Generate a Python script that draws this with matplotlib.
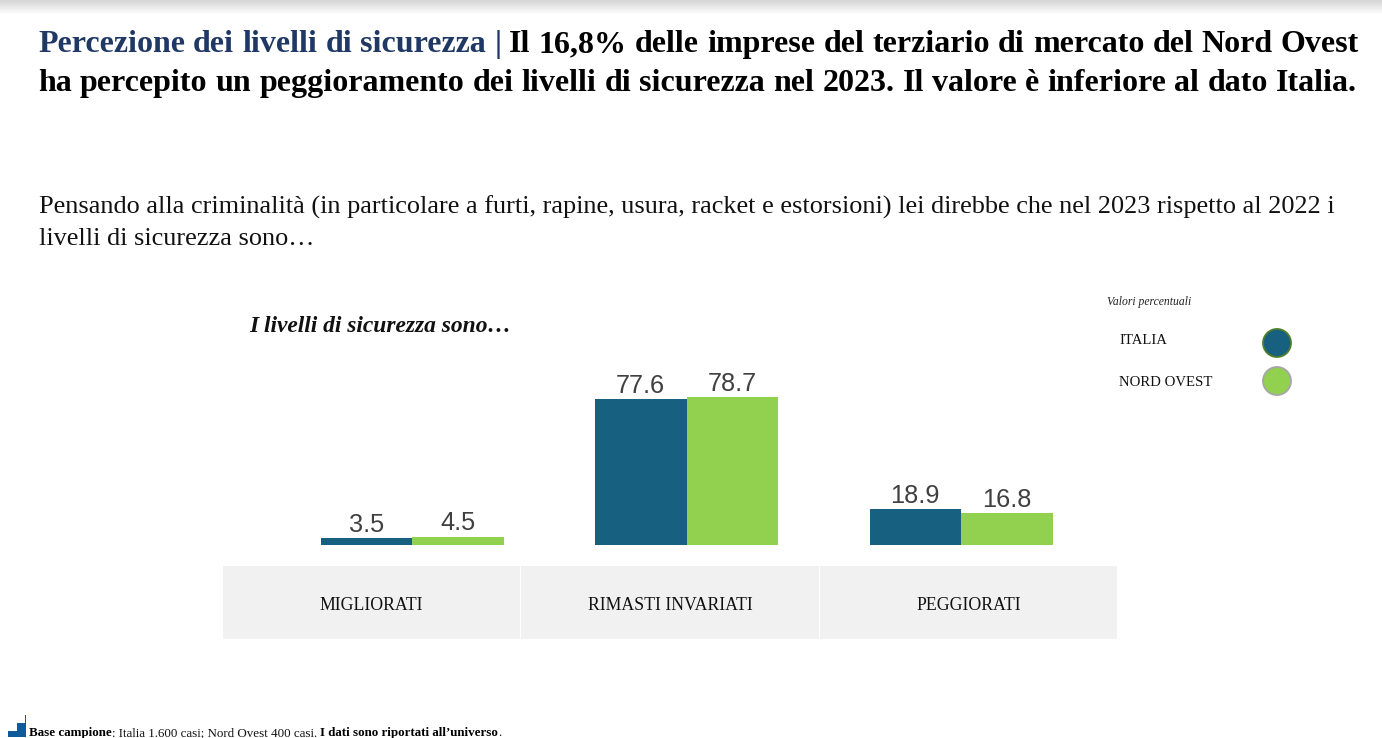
import numpy as np
import matplotlib
matplotlib.use("Agg")
import matplotlib.pyplot as plt
from matplotlib.patches import Rectangle, Circle, Polygon

plt.rcParams['font.family'] = ['Liberation Serif', 'DejaVu Serif']

categories = ["MIGLIORATI", "RIMASTI INVARIATI", "PEGGIORATI"]
italia = [3.5, 77.6, 18.9]
nord_ovest = [4.5, 78.7, 16.8]
series_names = ["ITALIA", "NORD OVEST"]

blue = "#17607f"
green = "#92d050"
W, H = 1382, 738

fig = plt.figure(figsize=(W / 100, H / 100), dpi=100)

# overlay in pixel coords for the slide stuff
bg = fig.add_axes([0, 0, 1, 1])
bg.set_xlim(0, W)
bg.set_ylim(H, 0)
bg.axis("off")

# grey shadow along the top edge
grad = np.linspace(0.84, 1, 16).reshape(-1, 1)
bg.imshow(grad, extent=[0, W, 15, 0], cmap="gray", vmin=0, vmax=1, aspect="auto")
bg.set_xlim(0, W)
bg.set_ylim(H, 0)


def runs(x, y, parts, size):
    # draw text pieces one after the other on the same baseline
    r = fig.canvas.get_renderer()
    for s, color, weight in parts:
        t = bg.text(x, y, s, fontsize=size, color=color, weight=weight, va="baseline")
        x = t.get_window_extent(r).x1


def justified(x0, x1, y, parts, size):
    # split in words and spread them so the line fills x0..x1
    r = fig.canvas.get_renderer()
    words = []
    for s, color in parts:
        for w in s.split():
            t = bg.text(0, y, w, fontsize=size, color=color, weight="bold", va="baseline")
            words.append((t, t.get_window_extent(r).width))
    gap = (x1 - x0 - sum(w for _, w in words)) / (len(words) - 1)
    x = x0
    for t, w in words:
        t.set_x(x)
        x += w + gap


navy = "#1f3864"
justified(38, 1359, 52, [("Percezione dei livelli di sicurezza |", navy),
                         ("Il 16,8% delle imprese del terziario di mercato del Nord Ovest", "black")], 23)
justified(38, 1357, 91, [("ha percepito un peggioramento dei livelli di sicurezza nel 2023. Il valore è inferiore al dato Italia.", "black")], 23)

body = "#111111"
bg.text(39, 214, "Pensando alla criminalità (in particolare a furti, rapine, usura, racket e estorsioni) lei direbbe che nel 2023 rispetto al 2022 i",
        fontsize=18.9, color=body, va="baseline")
bg.text(39, 245, "livelli di sicurezza sono…", fontsize=18.9, color=body, va="baseline")

bg.text(249, 332, "I livelli di sicurezza sono…", fontsize=16.9, weight="bold", style="italic", color=body, va="baseline")
bg.text(1107, 305, "Valori percentuali", fontsize=8.4, style="italic", color="#222222", va="baseline")

# legend
for name, c, edge, yy, ty in zip(series_names, [blue, green], ["#4f7f2a", "#a6a6a6"], [343, 381], [344, 386]):
    bg.add_patch(Circle((1277, yy), 14, facecolor=c, edgecolor=edge, lw=1.3))
    bg.text(1119, ty, name, fontsize=10.6, color=body, va="baseline")

# category strip
cell_x = [223, 521, 820]
cell_w = [297, 298, 297]
for cat, cx, cw in zip(categories, cell_x, cell_w):
    bg.add_patch(Rectangle((cx, 566), cw, 73, facecolor="#f1f1f1", edgecolor="none"))
    bg.text(cx + cw / 2, 605, cat, fontsize=12.8, color=body, ha="center", va="center")

# footer logo and note
bg.add_patch(Polygon([(8, 737), (8, 731), (17, 731), (17, 723), (25, 723), (25, 715), (26, 715), (26, 737)],
                     closed=True, facecolor="#0f5a9a", edgecolor="none"))
runs(29, 736, [("Base campione", "black", "bold"),
               (": Italia 1.600 casi; Nord Ovest 400 casi. ", body, "normal"),
               ("I dati sono riportati all’universo", "black", "bold"),
               (".", body, "normal")], 9.4)

# bars
ax = fig.add_axes([274.75 / W, 1 - 545 / H, 823.5 / W, 188 / H])
ax.patch.set_alpha(0)
x = np.arange(len(categories))
w = 1 / 3
b1 = ax.bar(x - w / 2, italia, w, color=blue)
b2 = ax.bar(x + w / 2, nord_ovest, w, color=green)
for bars in (b1, b2):
    ax.bar_label(bars, fmt="%.1f", padding=1, fontsize=18.3, color="#404040", family="Liberation Sans")
ax.set_xlim(-0.5, 2.5)
ax.set_ylim(0, 100)
ax.axis("off")

fig.savefig("out.png", dpi=100)
